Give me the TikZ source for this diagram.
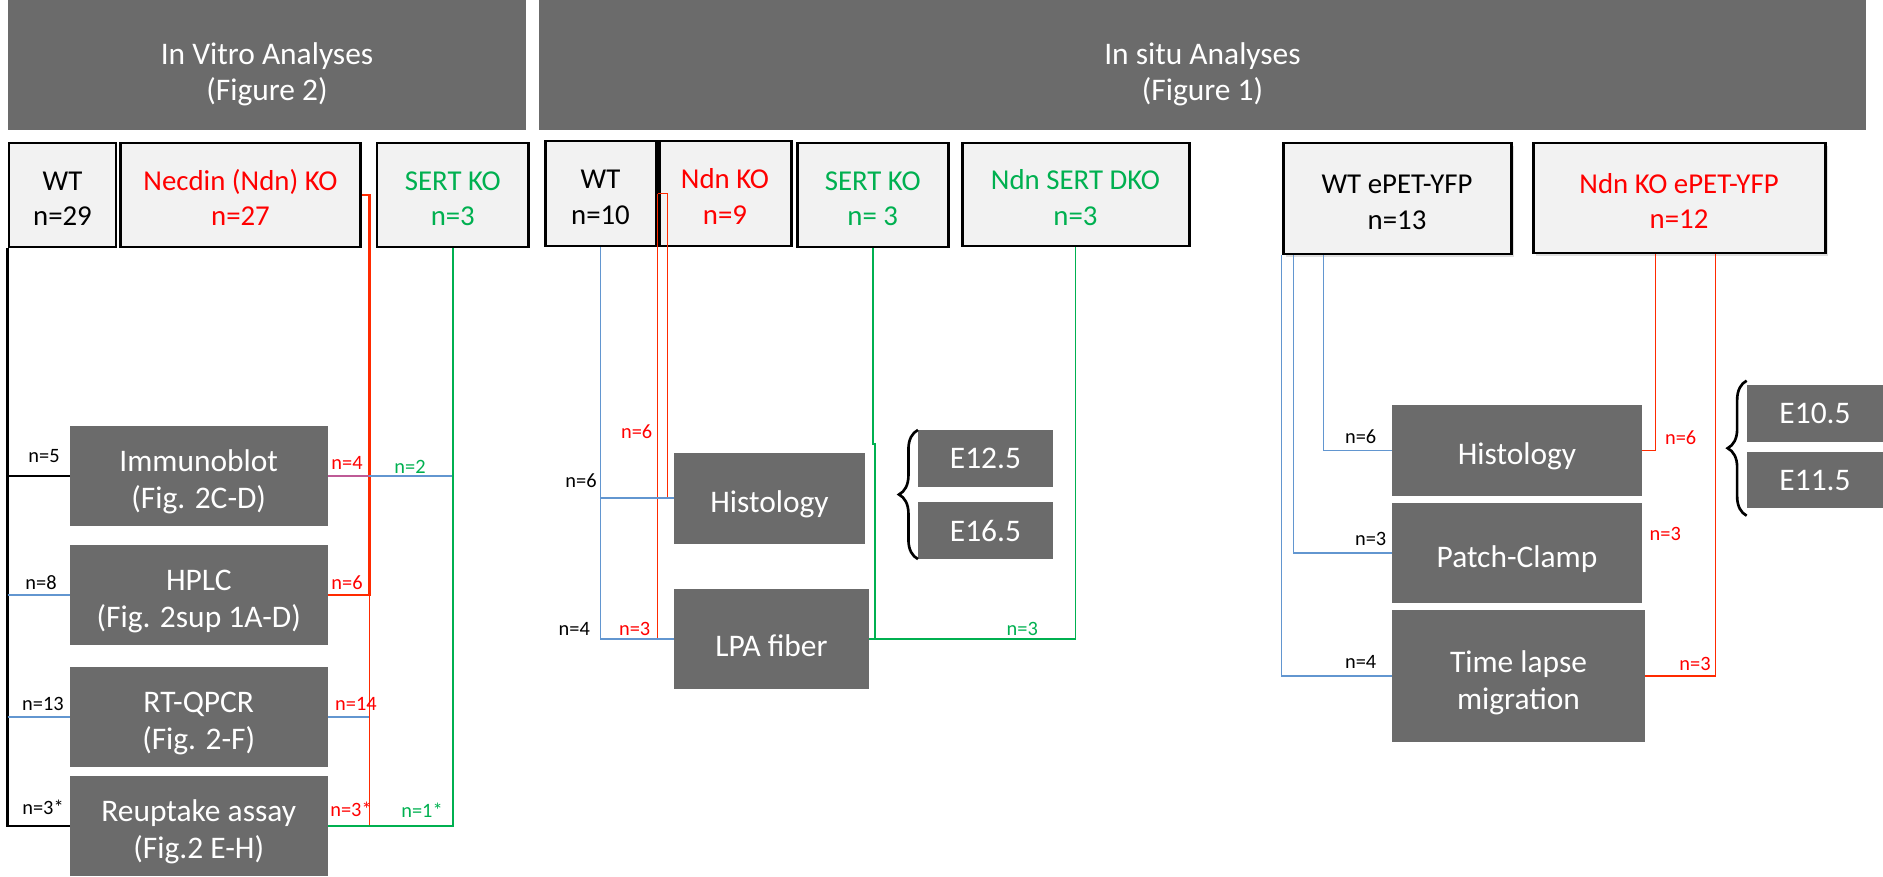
\documentclass[tikz,border=0pt]{standalone}
\usepackage{fontspec}
\setmainfont{Carlito}
\usepackage{tikz}
\usetikzlibrary{calc}
\usetikzlibrary{decorations.pathreplacing}
\usetikzlibrary{shadows}
\definecolor{BoxGrey}{HTML}{6B6B6B}
\definecolor{TopFill}{HTML}{F2F2F2}
\definecolor{MyRed}{HTML}{FF0000}
\definecolor{LineRed}{HTML}{FF2A00}
\definecolor{MyGreen}{HTML}{00B050}
\definecolor{LineBlue}{RGB}{98,150,208}
\definecolor{MixPurple}{RGB}{190,90,150}
\newcommand{\headfont}{\fontsize{17.9}{21}\selectfont}
\newcommand{\genofont}{\fontsize{16.4}{20.2}\selectfont}
\newcommand{\numfont}{\fontsize{11.6}{13}\selectfont}
% struts that push the first line down a little
\newcommand{\hup}{\rule{0pt}{23pt}}
\newcommand{\aup}{\rule{0pt}{19.5pt}}
\newcommand{\gup}{\rule{0pt}{15pt}}

\begin{document}
\begin{tikzpicture}[x=0.02cm, y=-0.02cm,
  sz/.style 2 args={minimum width=#1*0.02cm, minimum height=#2*0.02cm},
  grey/.style={fill=BoxGrey, text=white, font=\headfont, align=center, inner sep=0pt},
  geno/.style={draw=black, line width=1.7pt, fill=TopFill, font=\genofont, align=center, inner sep=0pt},
  num/.style={font=\numfont, inner sep=0pt},
  wire/.style={line width=1.1pt},
  shade/.style={drop shadow={opacity=0.25, shadow xshift=1.5pt, shadow yshift=-1.5pt}}]
  \useasboundingbox (0,0) rectangle (1883,876);

  % headers
  \node[grey, sz={518}{130}] (vitro) at (267,65) {\hup In Vitro Analyses\\(Figure 2)};
  \node[grey, sz={1327}{130}] (situ) at (1202.5,65) {\hup In situ Analyses\\(Figure 1)};

  % in vitro
  \node[geno, sz={107}{104}] (wtA) at (62.5,195) {\gup WT\\n=29};
  \node[geno, sz={240}{104}, text=MyRed] (ndnA) at (240.5,195) {\gup Necdin (Ndn) KO\\n=27};
  \node[geno, sz={151.6}{104}, text=MyGreen] (sertA) at (452.8,195) {\gup SERT KO\\n=3};
  \node[grey, sz={257.5}{100}] (immuno) at (198.75,476) {\aup Immunoblot\\(Fig. 2C-D)};
  \node[grey, sz={257.5}{100}] (hplc) at (198.75,595) {\aup HPLC\\(Fig. 2sup 1A-D)};
  \node[grey, sz={257.5}{100}] (qpcr) at (198.75,717) {\aup RT-QPCR\\(Fig. 2-F)};
  \node[grey, sz={257.5}{100}] (reup) at (198.75,826) {\aup Reuptake assay\\(Fig.2 E-H)};

  \draw[line width=1.6pt] (wtA.south west) |- (reup.west);
  \draw[wire] (wtA.south west |- immuno.west) -- (immuno.west);
  \draw[wire, LineBlue] (wtA.south west |- hplc.west) -- (hplc.west);
  \draw[wire, LineBlue] (wtA.south west |- qpcr.west) -- (qpcr.west);
  \coordinate (redA) at ($(ndnA.east)+(7.5,0)$);
  \draw[line width=1.6pt, LineRed] (ndnA.east) -- (redA) |- (hplc.east);
  \draw[line width=0.6pt, LineRed] (redA |- hplc.east) -- (redA |- reup.east);
  \draw[wire, MixPurple] (immuno.east) -- (redA |- immuno.east);
  \draw[wire, LineBlue] (redA |- immuno.east) -- (sertA.south |- immuno.east);
  \draw[wire, LineBlue] (qpcr.east) -- (redA |- qpcr.east);
  \draw[wire, MyGreen] (reup.east) -| (sertA.south);

  \node[num] (nA1) at (44,456) {n=5};
  \node[num] (nA2) at (41,583) {n=8};
  \node[num] (nA3) at (43,704) {n=13};
  \node[num] (nA4) at (43,807) {n=3*};
  \node[num, MyRed] (nA5) at (347,463) {n=4};
  \node[num, MyGreen] (nA6) at (410,467) {n=2};
  \node[num, MyRed] (nA7) at (347,583) {n=6};
  \node[num, MyRed] (nA8) at (356,704) {n=14};
  \node[num, MyRed] (nA9) at (351,809) {n=3*};
  \node[num, MyGreen] (nA10) at (422,810) {n=1*};

  % in situ, embryos
  \node[geno, sz={111}{105}] (wtB) at (600.5,193.5) {\gup WT\\n=10};
  \node[geno, sz={132}{105}, text=MyRed] (ndnB) at (725,193.5) {\gup Ndn KO\\n=9};
  \node[geno, sz={150.5}{104}, text=MyGreen] (sertB) at (872.75,195) {\gup SERT KO\\n= 3};
  \node[geno, sz={227}{103}, text=MyGreen] (dkoB) at (1075.5,194.5) {\gup Ndn SERT DKO\\n=3};
  \node[grey, sz={191}{90.7}] (histB) at (769.5,498.3) {\aup Histology};
  \node[grey, sz={195}{99.4}] (lpaB) at (771.5,639) {\aup LPA fiber};
  \node[grey, sz={134.4}{56.4}] (e12) at (985.5,458.5) {E12.5};
  \node[grey, sz={134.4}{56.4}] (e16) at (985.5,530.5) {E16.5};

  \draw[wire, LineRed] (ndnB.west) -- ++(10,0) |- (histB.west);
  \draw[wire, LineRed] (ndnB.west) -- (ndnB.west |- lpaB.west);
  \draw[wire, LineBlue] (wtB.south) |- (lpaB.west);
  \draw[wire, LineBlue] (wtB.south |- histB.west) -- (histB.west);
  \draw[wire, MyGreen] (sertB.south) -- ++(0,195.7) -- ++(2,0) |- (lpaB.east);
  \draw[wire, MyGreen] (lpaB.east) -| (dkoB.south);
  \draw[decorate, decoration={brace, amplitude=0.38cm}, line width=1.5pt]
    (e16.south west) -- (e12.north west);

  \node[num, MyRed] (nB1) at (636.7,431.7) {n=6};
  \node[num] (nB2) at (581,480.7) {n=6};
  \node[num] (nB3) at (574.3,629.3) {n=4};
  \node[num, MyRed] (nB4) at (634.7,629.3) {n=3};
  \node[num, MyGreen] (nB5) at (1022.3,629.3) {n=3};

  % in situ, ePET-YFP
  \node[geno, shade, sz={228}{111}] (wtC) at (1397,198.5) {\gup WT ePET-YFP\\n=13};
  \node[geno, shade, sz={292}{110}, text=MyRed] (ndnC) at (1679,198) {\gup Ndn KO ePET-YFP\\n=12};
  \node[grey, sz={250}{90.7}] (histC) at (1517,450.4) {\aup Histology};
  \node[grey, sz={250}{99.7}] (patchC) at (1517,552.9) {\aup Patch-Clamp};
  \node[grey, sz={253}{132.3}] (timeC) at (1518.5,676.2) {\aup Time lapse\\migration};
  \node[grey, sz={136}{56.7}] (e10) at (1815,413.4) {E10.5};
  \node[grey, sz={136}{56.3}] (e11) at (1815,480.2) {E11.5};

  \draw[line width=0.9pt, LineBlue] (wtC.south west) |- (timeC.west);
  \draw[line width=0.9pt, LineBlue] ($(wtC.south west)+(12,0)$) |- (patchC.west);
  \draw[line width=0.9pt, LineBlue] ($(wtC.south west)+(42,0)$) |- (histC.west);
  \draw[line width=0.9pt, LineRed] ($(ndnC.south west)+(124,0)$) |- (histC.east);
  \draw[line width=0.9pt, LineRed] ($(ndnC.south west)+(184,0)$) |- (timeC.east);
  \draw[decorate, decoration={brace, amplitude=0.38cm}, line width=1.5pt]
    ($(e11.south west)+(0,7)$) -- ($(e10.north west)+(0,-4)$);

  \node[num] (nC1) at (1360.7,436.7) {n=6};
  \node[num] (nC2) at (1370.7,539.3) {n=3};
  \node[num] (nC3) at (1360.7,661.7) {n=4};
  \node[num, MyRed] (nC4) at (1680.7,437.7) {n=6};
  \node[num, MyRed] (nC5) at (1665.3,534.3) {n=3};
  \node[num, MyRed] (nC6) at (1695,664) {n=3};
\end{tikzpicture}
\end{document}
